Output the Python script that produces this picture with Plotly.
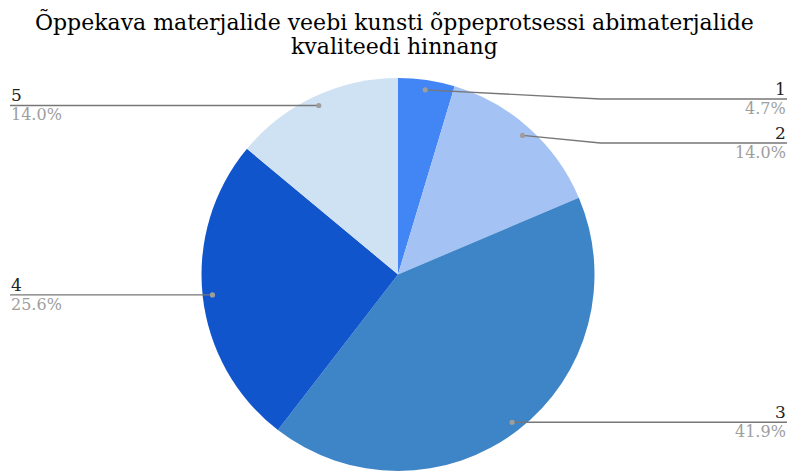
import math
import plotly.graph_objects as go

labels = ["1", "2", "3", "4", "5"]
values = [2, 6, 18, 11, 6]
colors = ["#4285f4", "#a4c2f4", "#3d85c6", "#1155cc", "#cfe2f3"]
title_lines = ["Õppekava materjalide veebi kunsti õppeprotsessi abimaterjalide", "kvaliteedi hinnang"]

W, H = 789, 471
TOP = 78
LEFT = 7
FONT = "DejaVu Serif"

dom_x = [LEFT / W, 1.0]
dom_y = [0.0, 1 - TOP / H]
R = (H - TOP) / 2
cx = LEFT + (W - LEFT) / 2
cy = TOP + R

def px(x):
    return x / W

def py(y):
    return 1 - y / H

fig = go.Figure(go.Pie(
    labels=labels, values=values, sort=False, direction="clockwise", rotation=0,
    marker=dict(colors=colors, line=dict(width=0)), textinfo="none",
    hoverinfo="label+percent", domain=dict(x=dom_x, y=dom_y), showlegend=False,
))

total = sum(values)
cum = 0
items = []
for lab, v in zip(labels, values):
    mid = (cum + v / 2) / total * 2 * math.pi
    cum += v
    dx = math.sin(mid)
    dy = -math.cos(mid)
    dot_x = cx + 0.95 * R * dx
    dot_y = cy + 0.95 * R * dy
    items.append(dict(lab=lab, pct=f"{v / total * 100:.1f}%", dx=dot_x, dy=dot_y, right=dx >= 0))

shapes = []
annotations = []
MIN_Y = 99
GAP = 44
for side in (True, False):
    group = sorted([it for it in items if it["right"] == side], key=lambda it: it["dy"])
    prev = -1e9
    for it in group:
        ly = max(it["dy"], MIN_Y if side else 0, prev + GAP)
        prev = ly
        if side:
            end_x = W - 2
            elbow_x = cx + R * 1.03
            path = f"M {px(it['dx'])} {py(it['dy'])} L {px(elbow_x)} {py(ly)} L {px(end_x)} {py(ly)}"
            anchor = "right"
        else:
            end_x = 10
            path = f"M {px(it['dx'])} {py(it['dy'])} L {px(end_x)} {py(ly)}"
            anchor = "left"
        shapes.append(dict(type="path", xref="paper", yref="paper", path=path,
                           line=dict(color="#777777", width=1.3)))
        r = 2.6
        shapes.append(dict(type="circle", xref="paper", yref="paper",
                           x0=px(it["dx"] - r), x1=px(it["dx"] + r),
                           y0=py(it["dy"] - r), y1=py(it["dy"] + r),
                           fillcolor="#9e9e9e", line=dict(width=0)))
        annotations.append(dict(x=px(end_x), y=py(ly), xref="paper", yref="paper",
                                text=it["lab"], showarrow=False, xanchor=anchor, yanchor="bottom",
                                font=dict(family=FONT, size=17, color="#222222"), yshift=-1,
                                borderpad=0))
        annotations.append(dict(x=px(end_x), y=py(ly), xref="paper", yref="paper",
                                text=it["pct"], showarrow=False, xanchor=anchor, yanchor="top",
                                font=dict(family=FONT, size=16, color="#9e9e9e"), yshift=1,
                                borderpad=0))

for i, line in enumerate(title_lines):
    annotations.append(dict(x=0.5, y=py(22 + 25 * i), xref="paper", yref="paper", text=line,
                            showarrow=False, xanchor="center", yanchor="middle",
                            font=dict(family=FONT, size=22, color="#000000")))

fig.update_layout(
    width=W, height=H,
    margin=dict(l=0, r=0, t=0, b=0),
    paper_bgcolor="white",
    shapes=shapes, annotations=annotations,
)

fig.write_html("out.html", config={"displayModeBar": False},
               post_script="document.body.style.margin='0';document.body.style.padding='0';")
